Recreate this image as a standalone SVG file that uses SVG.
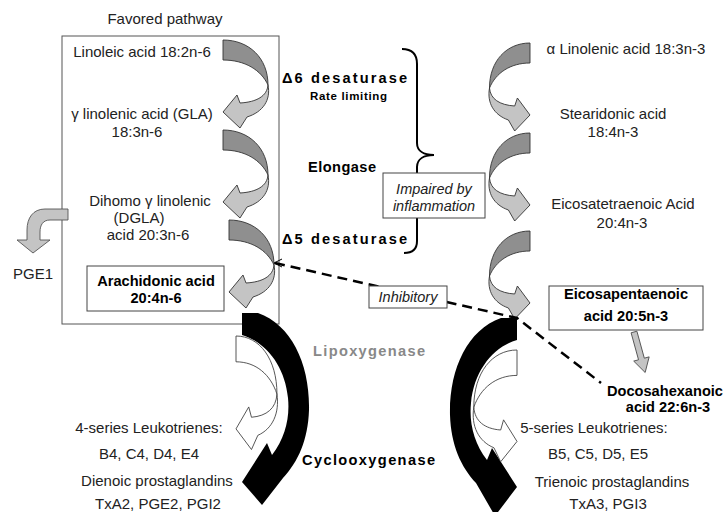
<svg xmlns="http://www.w3.org/2000/svg" xmlns:xlink="http://www.w3.org/1999/xlink" width="724" height="512" viewBox="0 0 724 512">
<style>
.t{font-family:"Liberation Sans",Arial,sans-serif;font-size:15px;fill:#222;}
.m{text-anchor:middle;}
.b{font-family:"Liberation Sans",Arial,sans-serif;font-size:14.6px;font-weight:bold;fill:#000;}
.i{font-family:"Liberation Sans",Arial,sans-serif;font-size:14.5px;font-style:italic;fill:#222;text-anchor:middle;}
.box{fill:#fff;stroke:#444;stroke-width:1;}
.dk{fill:#8f8f8f;stroke:#333;stroke-width:0.9;vector-effect:non-scaling-stroke;}
.lt{fill:#c4c4c4;stroke:#333;stroke-width:0.9;vector-effect:non-scaling-stroke;}
.wh{fill:#fff;stroke:#444;stroke-width:0.9;vector-effect:non-scaling-stroke;}
</style>
<defs>
<g id="tw">
<path class="dk" d="M0,0 C26,0 45,18 45,45 C38,30 22,20 0,20 Z"/>
<path class="lt" d="M45,45 C44,56 34,62 17,63 L14,55 L0,72 L17,88 L24,77 C40,72 48,60 45,45 Z"/>
</g>
<g id="tww">
<path class="wh" d="M0,0 C26,0 45,18 45,45 C38,30 22,20 0,20 Z"/>
<path class="wh" d="M45,45 C44,56 34,62 17,63 L14,55 L0,72 L17,88 L24,77 C40,72 48,60 45,45 Z"/>
</g>
</defs>
<rect width="724" height="512" fill="#fff"/>

<g id="favored-box">
<rect x="62" y="36" width="217" height="288" fill="none" stroke="#555" stroke-width="1"/>
<text class="t m" x="165" y="24">Favored pathway</text>
</g>

<g id="connectors">
<use xlink:href="#tw" transform="translate(223,40)"/>
<use xlink:href="#tw" transform="translate(223,130)"/>
<use xlink:href="#tw" transform="translate(229,220)"/>
<use xlink:href="#tw" transform="translate(530,43) scale(-0.9,1)"/>
<use xlink:href="#tw" transform="translate(530,133) scale(-0.9,1)"/>
<use xlink:href="#tw" transform="translate(530,231) scale(-0.9,1)"/>
<path d="M68,209 L45,209 C33,209 27,218 27,230 L27,240 L17,240 L33,253 L50,240 L40,240 L40,232 C40,225 43,220 50,220 L68,220 Z" fill="#c4c4c4" stroke="#555" stroke-width="0.9"/>
<path d="M242,313 L258,313 C292,325 310,365 309,410 C308,440 298,462 283,478 L262,505 L242,482 L267,443 L272,455 C285,438 290,418 288,398 C285,366 266,342 242,335 Z" fill="#000"/>
<path d="M517,318 L501,318 C467,330 449,370 450,415 C451,445 461,467 476,483 L495,516 L517,487 L492,448 L487,460 C474,443 469,423 471,403 C474,371 493,347 517,340 Z" fill="#000"/>
<use xlink:href="#tww" transform="translate(236,336) scale(0.91,1.29)"/>
<use xlink:href="#tww" transform="translate(517,350) scale(-0.96,1.27)"/>
<g transform="translate(634,332) rotate(-15.4)">
<path d="M-3,0 L3,0 L3,28 L8,28 L0,42 L-8,28 L-3,28 Z" fill="#c4c4c4" stroke="#555" stroke-width="0.9"/>
</g>
<path d="M275,263 L517,318 L601,383" fill="none" stroke="#000" stroke-width="2.5" stroke-dasharray="10,6"/>
<path d="M282,259 L274,263 L282,267" fill="none" stroke="#000" stroke-width="1"/>
<path d="M402,49 C412,49 417,54 417,64 L417,143 C417,151 424,155 434,155 C424,155 417,159 417,167 L417,241 C417,249 412,253 404,253" fill="none" stroke="#000" stroke-width="2"/>
</g>

<g id="n6-left">
<text class="t m" x="142" y="57">Linoleic acid 18:2n-6</text>
<text class="t m" x="142" y="119">γ linolenic acid (GLA)</text>
<text class="t m" x="137" y="137">18:3n-6</text>
<text class="t m" x="150" y="206">Dihomo γ linolenic</text>
<text class="t m" x="139" y="223">(DGLA)</text>
<text class="t m" x="148" y="240">acid 20:3n-6</text>
</g>

<g id="pge1">
<text class="t" x="13" y="279">PGE1</text>
</g>

<g id="arachidonic">
<rect class="box" x="87" y="266" width="137" height="45" stroke="#333"/>
<text class="b m" x="156" y="286">Arachidonic acid</text>
<text class="b m" x="156" y="303">20:4n-6</text>
</g>

<g id="enzymes">
<text class="b" x="282" y="83" textLength="125" lengthAdjust="spacing">Δ6 desaturase</text>
<text class="b" x="310" y="100" style="font-size:11.5px" textLength="77" lengthAdjust="spacing">Rate limiting</text>
<text class="b" x="308" y="172" textLength="68" lengthAdjust="spacing">Elongase</text>
<text class="b" x="282" y="244" textLength="125" lengthAdjust="spacing">Δ5 desaturase</text>
<text class="b" x="313" y="356" style="fill:#888" textLength="112" lengthAdjust="spacing">Lipoxygenase</text>
<text class="b" x="302" y="465" textLength="133" lengthAdjust="spacing">Cyclooxygenase</text>
</g>

<g id="impaired">
<rect class="box" x="383" y="173" width="102" height="45"/>
<text class="i" x="434" y="194">Impaired by</text>
<text class="i" x="434" y="211">inflammation</text>
</g>

<g id="inhibitory">
<rect class="box" x="369" y="286" width="78" height="22"/>
<text class="i" x="408" y="302">Inhibitory</text>
</g>

<g id="n3-right">
<text class="t m" x="626" y="54">α Linolenic acid 18:3n-3</text>
<text class="t m" x="613" y="119">Stearidonic acid</text>
<text class="t m" x="613" y="137">18:4n-3</text>
<text class="t m" x="623" y="209">Eicosatetraenoic Acid</text>
<text class="t m" x="622" y="228">20:4n-3</text>
</g>

<g id="epa">
<rect class="box" x="549" y="286" width="154" height="44"/>
<text class="b m" x="626" y="299">Eicosapentaenoic</text>
<text class="b m" x="626" y="321">acid 20:5n-3</text>
</g>

<g id="dha">
<text class="b m" x="665" y="396">Docosahexanoic</text>
<text class="b m" x="668" y="412">acid 22:6n-3</text>
</g>

<g id="products-left">
<text class="t m" x="149" y="433">4-series Leukotrienes:</text>
<text class="t m" x="149" y="459">B4, C4, D4, E4</text>
<text class="t m" x="157" y="486">Dienoic prostaglandins</text>
<text class="t m" x="158" y="509">TxA2, PGE2, PGI2</text>
</g>

<g id="products-right">
<text class="t m" x="594" y="433">5-series Leukotrienes:</text>
<text class="t m" x="598" y="459">B5, C5, D5, E5</text>
<text class="t m" x="612" y="487">Trienoic prostaglandins</text>
<text class="t m" x="608" y="509">TxA3, PGI3</text>
</g>
</svg>
